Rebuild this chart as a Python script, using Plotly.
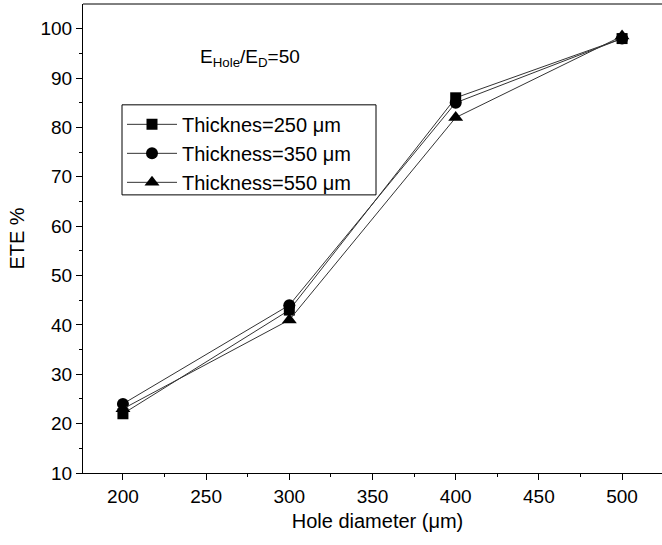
import plotly.graph_objects as go

hole_diameter = [200, 300, 400, 500]
ete_250 = [22, 43, 86, 98]
ete_350 = [24, 44, 85, 98]
ete_550 = [23, 41, 82, 98.5]
names = ["Thicknes=250 μm", "Thickness=350 μm", "Thickness=550 μm"]
symbols = ["square", "circle", "triangle-up"]

fig = go.Figure()
for vals, name, sym, sz in zip([ete_250, ete_350, ete_550], names, symbols, [11, 12, 13]):
    fig.add_trace(go.Scatter(
        x=hole_diameter, y=vals, name=name, mode="lines+markers",
        line=dict(color="#333333", width=1),
        marker=dict(symbol=sym, size=sz, color="black"),
        hoverinfo="skip",
    ))

# plot area spans 83..672 px (the last 10 px fall outside the 662 px window, as in the cropped original)
PW = 589.0
def px(x):
    return (x - 83) / PW

fig.update_layout(
    width=672, height=545,
    margin=dict(l=83, r=0, t=4, b=72),
    paper_bgcolor="white", plot_bgcolor="white",
    font=dict(family="Liberation Sans, Arial, sans-serif", color="black", size=19),
    showlegend=True, hovermode=False, dragmode=False,
    legend=dict(x=px(122), y=0.785, xanchor="left", yanchor="top",
                borderwidth=0, bgcolor="rgba(0,0,0,0)",
                font=dict(size=20), tracegroupgap=0, itemwidth=50),
    xaxis=dict(range=[176, 530], tickmode="array", tickvals=[200, 250, 300, 350, 400, 450, 500],
               showline=True, linecolor="black", linewidth=1, ticks="outside", ticklen=6,
               tickcolor="black", showgrid=False, zeroline=False, fixedrange=True,
               minor=dict(tickvals=[225, 275, 325, 375, 425, 475, 525], ticks="outside", ticklen=3, tickcolor="black"),
               title=dict(text="Hole diameter (μm)", font=dict(size=20), standoff=8)),
    yaxis=dict(range=[10, 105], tickvals=list(range(10, 101, 10)),
               showline=True, linecolor="black", linewidth=1, ticks="outside", ticklen=6,
               tickcolor="black", showgrid=False, zeroline=False, fixedrange=True,
               minor=dict(tickvals=list(range(15, 101, 10)), ticks="outside", ticklen=3, tickcolor="black"),
               title=dict(text="ETE %", font=dict(size=20), standoff=10)),
)
# top frame line
fig.add_shape(type="line", xref="paper", yref="paper", x0=0, x1=1, y0=1, y1=1,
              line=dict(color="black", width=1))
# legend frame
fig.add_shape(type="rect", xref="paper", yref="paper", x0=px(122), x1=px(376), y0=0.593, y1=0.785,
              line=dict(color="black", width=1), fillcolor="white", layer="above")
fig.add_annotation(text="E<sub>Hole</sub>/E<sub>D</sub>=50", xref="paper", yref="paper",
                   x=px(198), y=0.885, xanchor="left", yanchor="middle", showarrow=False,
                   font=dict(size=19))
fig.write_html("out.html", config={"displayModeBar": False},
               post_script="document.body.style.margin='0';document.body.style.overflow='hidden';document.documentElement.style.overflow='hidden';")
